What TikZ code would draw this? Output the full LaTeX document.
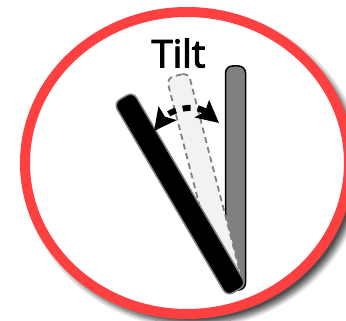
\documentclass[tikz,border=0pt]{standalone}
\usepackage{xcolor}
\usepackage{fontspec}
\setmainfont{Open Sans}
\newfontfamily\titlefont{Open Sans}[FakeBold=3]
\usetikzlibrary{shadows.blur,arrows.meta,shapes.geometric}
\definecolor{ring}{HTML}{FF4040}
\definecolor{mid}{HTML}{808080}
\definecolor{pale}{HTML}{F2F2F2}
\tikzset{
  bar/.style={rectangle, rounded corners=7pt, inner sep=0pt, minimum width=22.5pt, minimum height=224pt, line width=1.5pt},
  bighead/.tip={Stealth[length=22pt,width=22pt,inset=4pt]},
}
\begin{document}
\begin{tikzpicture}[x=1pt, y=-1pt]
  \useasboundingbox (0,0) rectangle (346,321);
  \node[ellipse, fill=white, inner sep=0pt, outer sep=0pt,
        minimum width=332pt, minimum height=310pt,
        blur shadow={shadow xshift=6pt, shadow yshift=-6pt, shadow blur radius=5pt, shadow blur steps=8, shadow opacity=70}] (halo) at (187,163) {};
  \node[ellipse, draw=ring, line width=10pt, fill=white, inner sep=0pt, outer sep=0pt,
        minimum width=324pt, minimum height=302pt] (disc) at (187,163) {};
  \node[bar, draw=black, fill=mid, minimum width=20pt] (upright) at (235.5,178) {};
  \node[bar, draw=mid, fill=pale, dashed, line width=1.8pt, dash pattern=on 6pt off 4pt, minimum height=212pt, rotate=14.5] (ghost) at (204,178) {};
  \node[bar, draw=mid, fill=black, rotate=30.4] (leaning) at (180,194) {};
  \coordinate (tipL) at (154,131);
  \coordinate (tipR) at (219,123);
  \draw[line width=6pt, dash pattern=on 8pt off 7pt, dash phase=9pt, {bighead}-{bighead}]
    (tipL) .. controls (170,110) and (195,103) .. (tipR);
  \node[font=\titlefont\fontsize{38}{38}\selectfont, inner sep=0pt] (title) at (178.5,53) {Tilt};
\end{tikzpicture}
\end{document}
